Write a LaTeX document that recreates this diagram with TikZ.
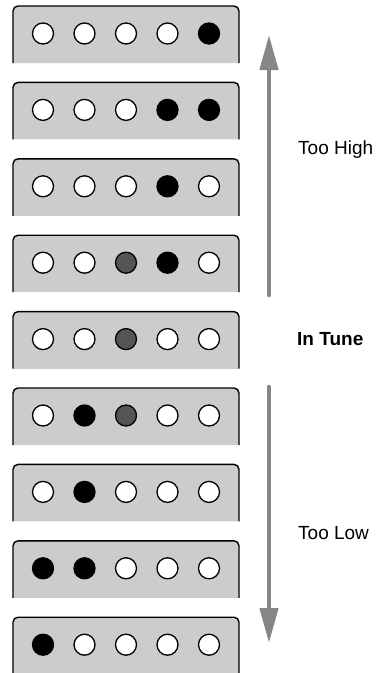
\documentclass[tikz,border=0pt]{standalone}
\usepackage{fontspec}
\setmainfont{Liberation Sans}
\usetikzlibrary{arrows.meta}
\definecolor{boxfill}{HTML}{CCCCCC}
\definecolor{midgray}{HTML}{555555}
\definecolor{arrowgray}{HTML}{868686}
\begin{document}
\begin{tikzpicture}[x=1pt,y=-1pt,
  pickup/.style={fill=boxfill,draw=black,line width=1.4pt,rounded corners=5pt},
  dotW/.style={circle,draw=black,line width=1.3pt,fill=white,minimum size=21pt,inner sep=0pt},
  dotB/.style={dotW,fill=black},
  dotG/.style={dotW,fill=midgray},
  bigarrow/.style={draw=arrowgray,line width=4.5pt,line cap=round,-{Triangle[length=35pt,width=18pt]}},
  label/.style={anchor=base west,inner sep=0pt,font=\fontsize{19}{22}\selectfont}]
\useasboundingbox (0,0) rectangle (378,673);
\foreach \row/\states [count=\i from 0] in {
  1/{W,W,W,W,B},2/{W,W,W,B,B},3/{W,W,W,B,W},4/{W,W,G,B,W},5/{W,W,G,W,W},
  6/{W,B,G,W,W},7/{W,B,W,W,W},8/{B,B,W,W,W},9/{B,W,W,W,W}}{
  \pgfmathsetmacro{\top}{6+76.4*\i}
  \fill[boxfill] (13,\top+3) rectangle (239,\top+57);
  \draw[pickup] (13,\top+57) -- (13,\top) -- (239,\top) -- (239,\top+57);
  \foreach \s [count=\j from 0] in \states {
    \node[dot\s] (c-\row-\j) at (43+41.5*\j,\top+27.5) {};
  }
}
\coordinate (upstart) at (269,295);
\coordinate (uptip) at (269,35);
\coordinate (downstart) at (269,387);
\coordinate (downtip) at (269,643);
\draw[bigarrow] (upstart) -- (uptip);
\draw[bigarrow] (downstart) -- (downtip);
\node[label] (high) at (298,154) {Too High};
\node[label,font=\fontsize{19}{22}\selectfont\bfseries] (tune) at (297,345) {In Tune};
\node[label] (low) at (298,539) {Too Low};
\end{tikzpicture}
\end{document}
